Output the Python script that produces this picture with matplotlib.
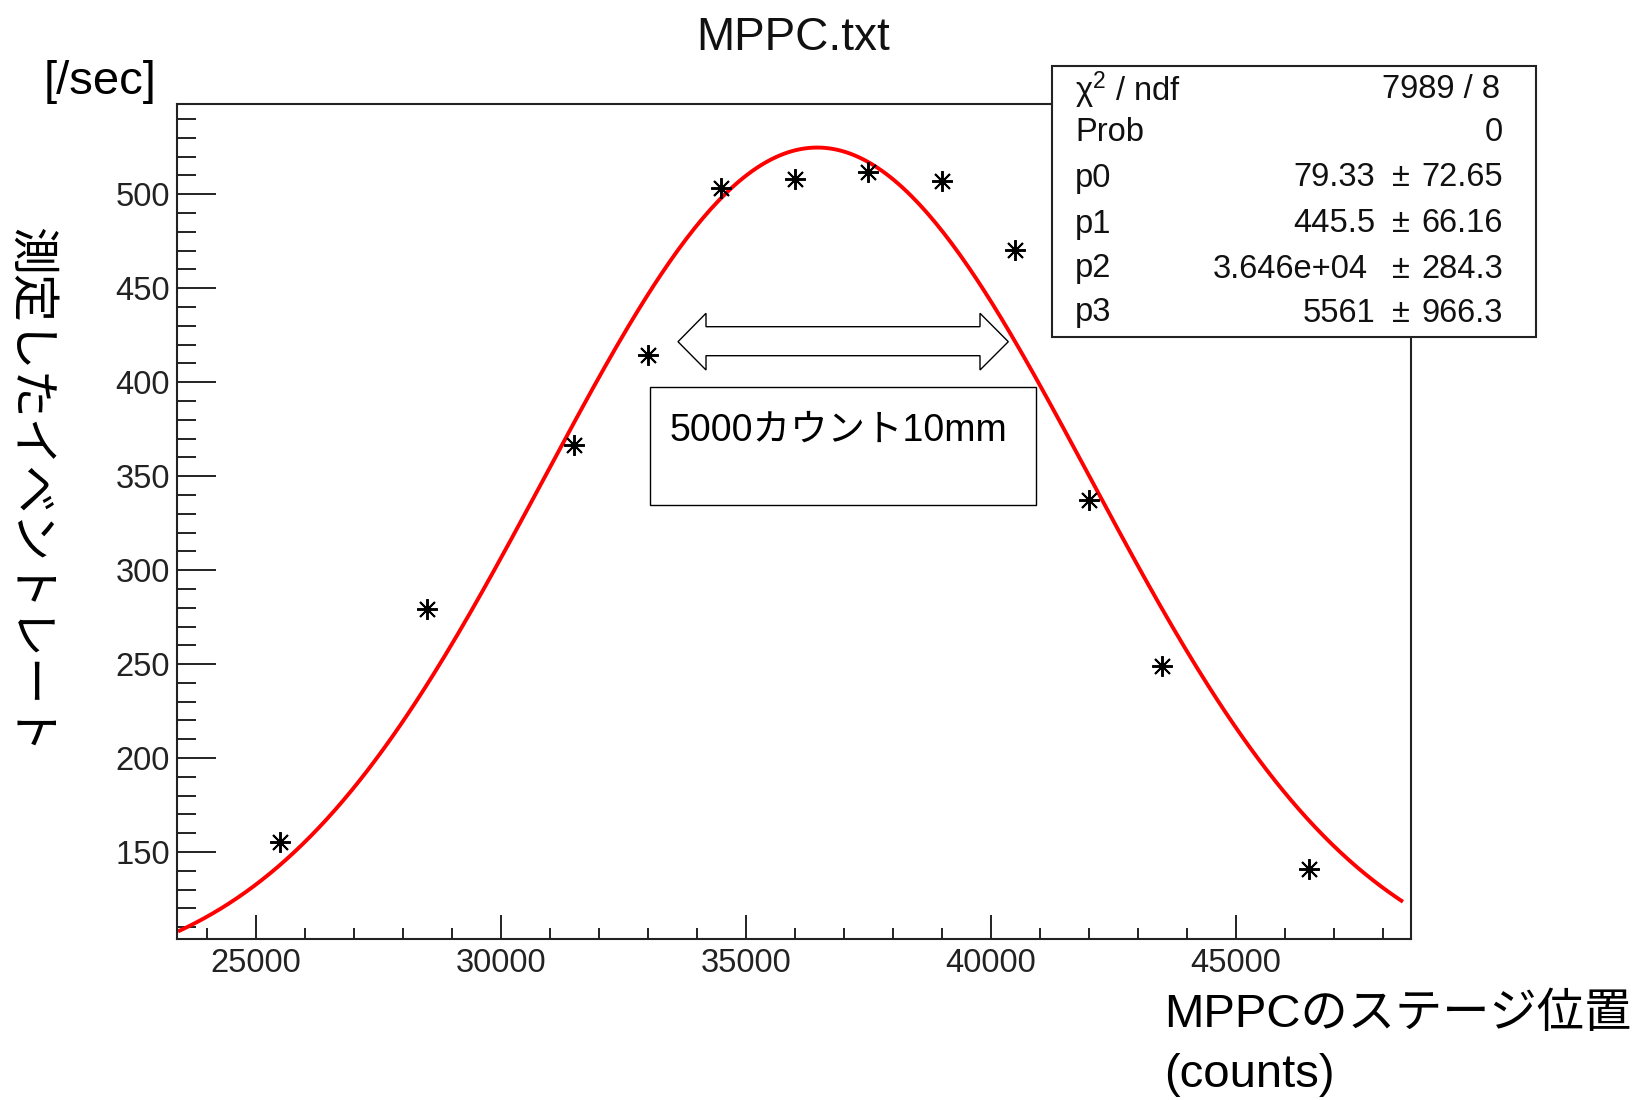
import numpy as np
import matplotlib
matplotlib.use("Agg")
import matplotlib.pyplot as plt
from matplotlib.patches import Rectangle, Polygon
from matplotlib.ticker import MultipleLocator

plt.rcParams['font.family'] = ['Liberation Sans', 'Noto Sans CJK JP', 'DejaVu Sans']
plt.rcParams['mathtext.fontset'] = 'custom'
plt.rcParams['mathtext.rm'] = 'Liberation Sans'
plt.rcParams['mathtext.it'] = 'Liberation Sans:italic'

# ---- data ----
positions = [25500, 28500, 31500, 33000, 34500, 36000, 37500, 39000, 40500, 42000, 43500, 46500]
rates = [155.5, 279.3, 366.8, 414.7, 503.2, 508.1, 511.7, 507.1, 470.3, 337.3, 248.8, 140.8]

param_names = ["p0", "p1", "p2", "p3"]
param_values = ["79.33", "445.5", "3.646e+04", "5561"]
param_errors = ["72.65", "66.16", "284.3", "966.3"]
fit_p = [79.33, 445.5, 3.646e4, 5561.0]
chi2_text = "7989 / 8"
prob_text = "0"
fit_range = [23450, 48380]

x_major = [25000, 30000, 35000, 40000, 45000]
y_major = [150, 200, 250, 300, 350, 400, 450, 500]

W, H = 1640, 1100
fig = plt.figure(figsize=(W / 100, H / 100), dpi=100)

def fx(px):
    return px / W

def fy(py):
    return 1 - py / H

ax = fig.add_axes([fx(177), fy(938.5), fx(1410.7) - fx(177), fy(104) - fy(938.5)])
ax.set_xlim(23394, 48571)
ax.set_ylim(104, 548)

# fit curve from displayed parameters
xf = np.linspace(fit_range[0], fit_range[1], 300)
yf = fit_p[0] + fit_p[1] * np.exp(-0.5 * ((xf - fit_p[2]) / fit_p[3]) ** 2)
ax.plot(xf, yf, color='#ff0000', lw=2.8, zorder=2)

ax.plot(positions, rates, linestyle='none', marker=(8, 2, 0), ms=15, mew=1.4,
        color='black', zorder=3)

# ticks
ax.set_xticks(x_major)
ax.set_yticks(y_major)
ax.xaxis.set_minor_locator(MultipleLocator(1000))
ax.yaxis.set_minor_locator(MultipleLocator(10))
ax.tick_params(axis='x', which='major', direction='in', length=17, width=1.4,
               labelsize=23.5, pad=7, colors='#222222', top=False)
ax.tick_params(axis='x', which='minor', direction='in', length=8, width=1.4,
               colors='#222222', top=False)
ax.tick_params(axis='y', which='major', direction='in', length=28, width=1.4,
               labelsize=23.5, pad=5, colors='#222222', right=False)
ax.tick_params(axis='y', which='minor', direction='in', length=14, width=1.4,
               colors='#222222', right=False)
for s in ax.spines.values():
    s.set_linewidth(1.5)
    s.set_color('#222222')

# title and axis texts
fig.text(fx(793), fy(38), "MPPC.txt", ha='center', va='center', fontsize=33, color='#111111')
fig.text(fx(44), fy(82), "[/sec]", ha='left', va='center', fontsize=34, color='black')
fig.text(fx(29), fy(490), "測定したイベントレート", ha='center', va='center',
         rotation=270, fontsize=34.5, color='black')
fig.text(fx(1164), fy(1015), "MPPCのステージ位置", ha='left', va='center', fontsize=34, color='black')
fig.text(fx(1164), fy(1075), "(counts)", ha='left', va='center', fontsize=34, color='black')

# stats box
box = Rectangle((fx(1052), fy(336.7)), fx(1535.7) - fx(1052), fy(66) - fy(336.7),
                transform=fig.transFigure, facecolor='white', edgecolor='#222222',
                lw=1.5, zorder=5)
fig.add_artist(box)
row_y = [90, 133, 178, 224, 269, 313]
labels = ["χ$^{2}$ / ndf", "Prob"] + param_names
for lab, yy in zip(labels, row_y):
    fig.text(fx(1075), fy(yy), lab, ha='left', va='center', fontsize=23.5,
             color='#111111', zorder=6)
fig.text(fx(1500), fy(row_y[0]), chi2_text, ha='right', va='center', fontsize=23.5,
         color='#111111', zorder=6)
fig.text(fx(1503), fy(row_y[1]), prob_text, ha='right', va='center', fontsize=23.5,
         color='#111111', zorder=6)
for i, (v, e) in enumerate(zip(param_values, param_errors)):
    yy = row_y[2 + i]
    vx = 1368 if 'e' in v else 1375
    fig.text(fx(vx), fy(yy), v, ha='right', va='center', fontsize=23.5, color='#111111', zorder=6)
    fig.text(fx(1401), fy(yy), "±", ha='center', va='center', fontsize=23.5, color='#111111', zorder=6)
    fig.text(fx(1503), fy(yy), e, ha='right', va='center', fontsize=23.5, color='#111111', zorder=6)

# double-headed block arrow annotation
arrow_px = [(678, 341.7), (706, 313.3), (706, 326.7), (980, 326.7), (980, 313.3),
            (1008.3, 341.7), (980, 370), (980, 355.7), (706, 355.7), (706, 370)]
arrow = Polygon([(fx(a), fy(b)) for a, b in arrow_px], closed=True,
                transform=fig.transFigure, facecolor='white', edgecolor='black',
                lw=1.0, zorder=4)
fig.add_artist(arrow)

# text box annotation
tbox = Rectangle((fx(650), fy(505)), fx(1035.7) - fx(650), fy(386.7) - fy(505),
                 transform=fig.transFigure, facecolor='white', edgecolor='black',
                 lw=1.0, zorder=4)
fig.add_artist(tbox)
fig.text(fx(670), fy(431), "5000カウント10mm", ha='left', va='center', fontsize=27,
         color='black', zorder=5)

fig.savefig("out.png", dpi=100, facecolor='white')
